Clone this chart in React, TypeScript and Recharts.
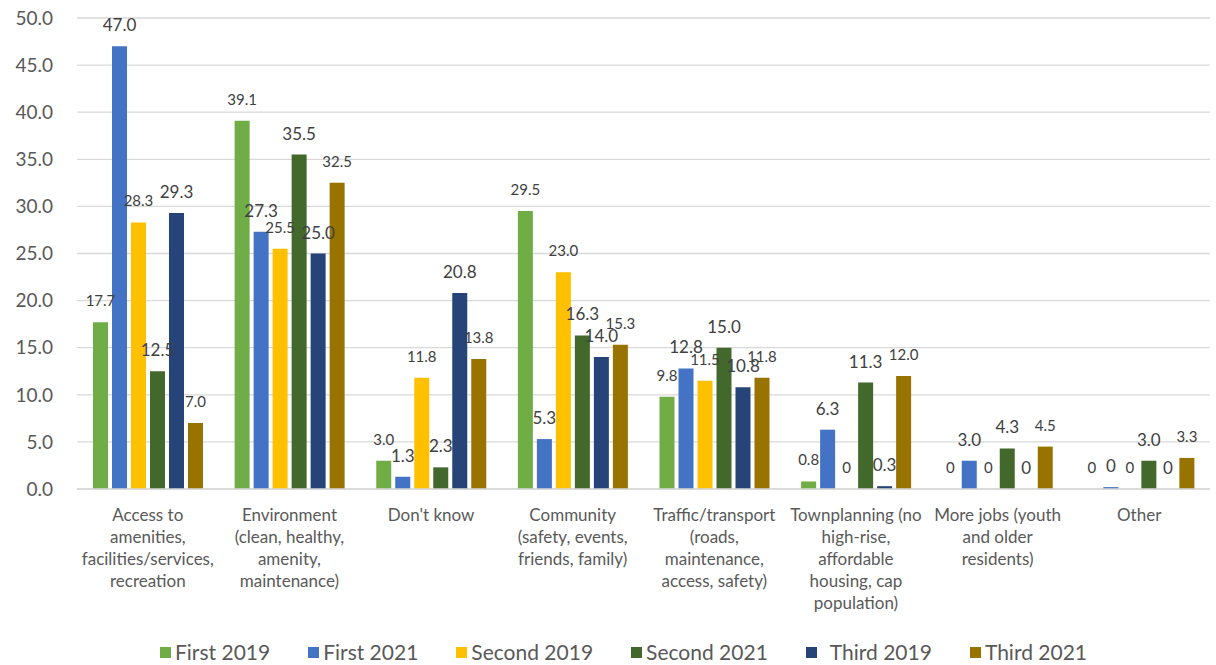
import { BarChart, Bar, XAxis, YAxis, CartesianGrid, Legend } from 'recharts'

const CATEGORIES = [
  'Access to amenities, facilities/services, recreation',
  'Environment (clean, healthy, amenity, maintenance)',
  "Don't know",
  'Community (safety, events, friends, family)',
  'Traffic/transport (roads, maintenance, access, safety)',
  'Townplanning (no high-rise, affordable housing, cap population)',
  'More jobs (youth and older residents)',
  'Other',
]

// how each category label wraps under the axis
const CATEGORY_LINES = [
  ['Access to', 'amenities,', 'facilities/services,', 'recreation'],
  ['Environment', '(clean, healthy,', 'amenity,', 'maintenance)'],
  ["Don't know"],
  ['Community', '(safety, events,', 'friends, family)'],
  ['Traffic/transport', '(roads,', 'maintenance,', 'access, safety)'],
  ['Townplanning (no', 'high-rise,', 'affordable', 'housing, cap', 'population)'],
  ['More jobs (youth', 'and older', 'residents)'],
  ['Other'],
]

const FIRST_2019 = [17.7, 39.1, 3.0, 29.5, 9.8, 0.8, 0, 0]
const FIRST_2021 = [47.0, 27.3, 1.3, 5.3, 12.8, 6.3, 3.0, 0.2]
const SECOND_2019 = [28.3, 25.5, 11.8, 23.0, 11.5, 0, 0, 0]
const SECOND_2021 = [12.5, 35.5, 2.3, 16.3, 15.0, 11.3, 4.3, 3.0]
const THIRD_2019 = [29.3, 25.0, 20.8, 14.0, 10.8, 0.3, 0, 0]
const THIRD_2021 = [7.0, 32.5, 13.8, 15.3, 11.8, 12.0, 4.5, 3.3]

const Y_TICKS = [0, 5, 10, 15, 20, 25, 30, 35, 40, 45, 50]

const SERIES = [
  { key: 'first2019', label: 'First 2019', color: '#70AD47', values: FIRST_2019, big: false },
  { key: 'first2021', label: 'First 2021', color: '#4472C4', values: FIRST_2021, big: true },
  { key: 'second2019', label: 'Second 2019', color: '#FFC000', values: SECOND_2019, big: false },
  { key: 'second2021', label: 'Second 2021', color: '#43682B', values: SECOND_2021, big: true },
  { key: 'third2019', label: 'Third 2019', color: '#264478', values: THIRD_2019, big: true },
  { key: 'third2021', label: 'Third 2021', color: '#997300', values: THIRD_2021, big: false },
]

const FONT = 'Lato, "Open Sans", sans-serif'

const data = CATEGORIES.map((name, i) => {
  const row: Record<string, string | number> = { name, idx: i }
  SERIES.forEach(s => { row[s.key] = s.values[i] })
  return row
})

// the source prints tiny slivers as a plain 0
const fmt = (v: number) => (v < 0.25 ? '0' : v.toFixed(1))

function BarLabel(props: any) {
  const { x, y, width, value, big } = props
  if (value === undefined || value === null) return null
  return (
    <text
      x={Number(x) + Number(width) / 2}
      y={Number(y) - (big ? 15 : 16)}
      textAnchor="middle"
      fill="#404040"
      fontSize={big ? 17 : 15}
      fontFamily={FONT}
    >
      {fmt(Number(value))}
    </text>
  )
}

function CategoryTick(props: any) {
  const { x, y, payload } = props
  const lines = CATEGORY_LINES[payload.index] || [String(payload.value)]
  return (
    <text x={x} y={y} textAnchor="middle" fill="#595959" fontSize={17} fontFamily={FONT}>
      {lines.map((l, i) => (
        <tspan key={i} x={x} y={Number(y) + 32 + i * 22}>{l}</tspan>
      ))}
    </text>
  )
}

function LegendContent() {
  return (
    <div
      style={{
        display: 'flex',
        height: 26,
        alignItems: 'center',
        paddingLeft: 160,
        gap: 38,
        fontFamily: FONT,
        fontSize: 21,
        color: '#595959',
        lineHeight: '26px',
      }}
    >
      {SERIES.map(s => (
        <div key={s.key} style={{ display: 'flex', alignItems: 'center' }}>
          <span style={{ width: 11, height: 11, background: s.color, marginRight: s.key === 'third2019' ? 13 : 4 }} />
          <span>{s.label}</span>
        </div>
      ))}
    </div>
  )
}

export default function App() {
  return (
    <div style={{ position: 'fixed', left: 0, top: 0, background: '#fff' }}>
      <BarChart
        width={1216}
        height={665}
        data={data}
        margin={{ top: 18, right: 6, left: 0, bottom: 0 }}
        barSize={15}
        barGap={4}
      >
        <CartesianGrid vertical={false} stroke="#d9d9d9" strokeWidth={1.3} />
        <XAxis
          dataKey="name"
          interval={0}
          height={150}
          tickSize={0}
          tickMargin={0}
          tickLine={false}
          axisLine={{ stroke: '#d9d9d9', strokeWidth: 1.3 }}
          tick={<CategoryTick />}
        />
        <YAxis
          width={77}
          domain={[0, 50]}
          ticks={Y_TICKS}
          tickSize={0}
          tickMargin={24}
          axisLine={false}
          tickLine={false}
          tickFormatter={(v: number) => v.toFixed(1)}
          tick={{ fill: '#595959', fontSize: 19, fontFamily: FONT }}
        />
        <Legend verticalAlign="bottom" height={26} content={<LegendContent />} />
        {SERIES.map(s => (
          <Bar
            key={s.key}
            dataKey={s.key}
            name={s.label}
            fill={s.color}
            minPointSize={0.01}
            isAnimationActive={false}
            label={(p: any) => <BarLabel {...p} big={s.big} />}
          />
        ))}
      </BarChart>
    </div>
  )
}
